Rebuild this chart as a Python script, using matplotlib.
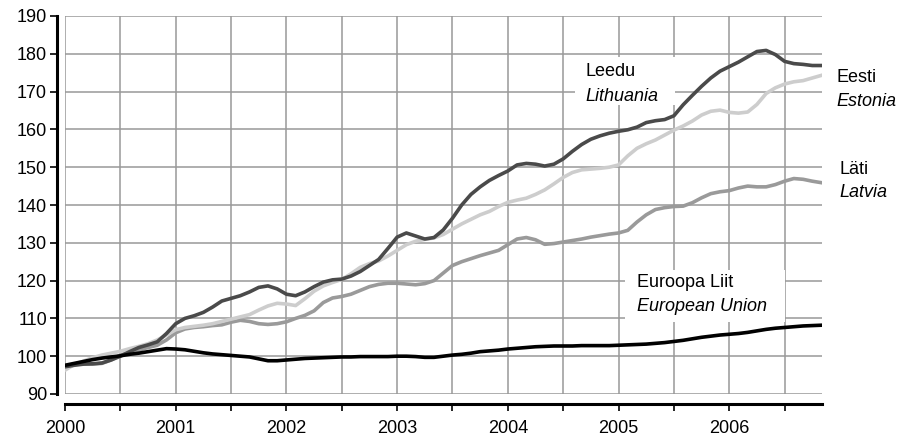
import matplotlib.pyplot as plt
from matplotlib.patches import Rectangle

plt.rcParams['font.family'] = ['Liberation Sans', 'DejaVu Sans']

# monthly index, Jan 2000 .. Nov 2006
years = ['2000', '2001', '2002', '2003', '2004', '2005', '2006']

eu = [97.6, 98.1, 98.6, 99.1, 99.5, 99.8, 100.1, 100.5, 100.8, 101.2, 101.6, 102.0,
      101.9, 101.7, 101.3, 100.9, 100.6, 100.4, 100.2, 100.0, 99.8, 99.3, 98.8, 98.8,
      99.0, 99.2, 99.4, 99.5, 99.6, 99.7, 99.8, 99.8, 99.9, 99.9, 99.9, 99.9,
      100.0, 100.0, 99.9, 99.7, 99.7, 100.0, 100.3, 100.5, 100.8, 101.2, 101.4, 101.6,
      101.9, 102.1, 102.3, 102.5, 102.6, 102.7, 102.7, 102.7, 102.8, 102.8, 102.8, 102.8,
      102.9, 103.0, 103.1, 103.2, 103.4, 103.6, 103.9, 104.2, 104.6, 105.0, 105.3, 105.6,
      105.8, 106.0, 106.3, 106.7, 107.1, 107.4, 107.6, 107.8, 108.0, 108.1, 108.2]

lithuania = [97.2, 97.6, 97.9, 98.0, 98.2, 99.0, 100.0, 101.2, 102.3, 103.0, 103.8, 106.0,
             108.6, 110.0, 110.7, 111.6, 113.0, 114.6, 115.3, 116.0, 117.0, 118.2, 118.6, 117.8,
             116.4, 116.0, 117.0, 118.4, 119.6, 120.2, 120.4, 121.2, 122.4, 124.0, 125.6, 128.5,
             131.5, 132.6, 131.8, 131.0, 131.4, 133.4, 136.5, 140.0, 142.8, 144.8, 146.5, 147.8,
             149.0, 150.6, 151.0, 150.8, 150.3, 150.8, 152.2, 154.2, 156.0, 157.4, 158.3, 159.0,
             159.5, 159.9, 160.6, 161.8, 162.3, 162.6, 163.6, 166.5, 169.0, 171.4, 173.6, 175.4,
             176.6, 177.8, 179.2, 180.6, 180.9, 179.8, 178.0, 177.4, 177.2, 176.9, 176.9]

estonia = [96.3, 97.8, 98.7, 99.6, 100.3, 100.8, 101.3, 102.0, 102.6, 103.3, 104.3, 105.6,
           107.0, 107.6, 107.9, 108.2, 108.6, 109.2, 109.8, 110.4, 111.0, 112.2, 113.3, 114.0,
           113.8, 113.4, 115.2, 117.2, 118.6, 119.5, 120.3, 121.8, 123.5, 124.5, 125.2, 126.5,
           128.0, 129.5, 130.4, 130.9, 131.3, 132.2, 133.6, 135.0, 136.2, 137.4, 138.3, 139.6,
           140.7, 141.3, 141.8, 142.8, 144.0, 145.6, 147.3, 148.6, 149.3, 149.5, 149.7, 150.0,
           150.6, 153.0, 155.0, 156.2, 157.2, 158.5, 159.8, 160.9, 162.2, 163.8, 164.8, 165.1,
           164.5, 164.3, 164.6, 166.6, 169.5, 171.0, 172.0, 172.6, 172.9, 173.6, 174.3]

latvia = [96.8, 97.8, 98.0, 97.9, 98.1, 99.0, 100.3, 101.0, 101.6, 102.3, 102.9, 104.3,
          106.2, 107.2, 107.6, 107.8, 108.1, 108.3, 109.0, 109.5, 109.2, 108.6, 108.4, 108.6,
          109.1, 110.0, 110.8, 112.0, 114.2, 115.4, 115.8, 116.4, 117.4, 118.4, 119.0, 119.3,
          119.3, 119.1, 118.9, 119.2, 120.0, 122.0, 124.0, 125.0, 125.8, 126.6, 127.3, 128.0,
          129.5, 131.0, 131.4, 130.8, 129.6, 129.8, 130.2, 130.6, 131.0, 131.5, 131.9, 132.3,
          132.6, 133.3, 135.5, 137.4, 138.8, 139.3, 139.6, 139.7, 140.6, 141.9, 143.0, 143.5,
          143.8, 144.5, 145.0, 144.8, 144.8, 145.4, 146.3, 147.0, 146.8, 146.3, 145.9]

months = list(range(len(eu)))

fig = plt.figure(figsize=(9.01, 4.44), dpi=100)
ax = fig.add_axes([65 / 901, 1 - 394 / 444, (821.5 - 65) / 901, 378 / 444])

ax.plot(months, latvia, color='#9a9a9a', lw=2.6, zorder=3)
ax.plot(months, estonia, color='#cdcdcd', lw=2.6, zorder=3)
ax.plot(months, lithuania, color='#4a4a4a', lw=2.6, zorder=3)
ax.plot(months, eu, color='black', lw=2.6, zorder=3)

ax.set_xlim(0, len(eu) - 1)
ax.set_ylim(90, 190)
ax.set_xticks(range(0, len(eu), 6))
ax.set_xticklabels([years[i // 2] if i % 2 == 0 else '' for i in range(len(range(0, len(eu), 6)))])
ax.set_yticks(range(90, 191, 10))

ax.set_axisbelow(True)
ax.grid(True, color='#999999', lw=1.1)

for s in ['top', 'right']:
    ax.spines[s].set_visible(False)
ax.spines['left'].set_position(('outward', 6))
ax.spines['bottom'].set_position(('outward', 7.5))
ax.spines['left'].set_linewidth(2.2)
ax.spines['bottom'].set_linewidth(2.2)
ax.tick_params(axis='y', length=5, width=1.2, pad=2, labelsize=13)
ax.tick_params(axis='x', length=5, width=1.2, pad=6, labelsize=13)

# white boxes behind the two inner labels
ax.add_patch(Rectangle((55.3, 166.5), 10.8, 12.7, facecolor='white', edgecolor='none', zorder=1))
ax.add_patch(Rectangle((60.7, 109.0), 17.3, 13.8, facecolor='white', edgecolor='none', zorder=1))

fs = 13
ax.text(56.4, 175.2, 'Leedu', fontsize=fs, va='center', zorder=4)
ax.text(56.4, 168.8, 'Lithuania', fontsize=fs, style='italic', va='center', zorder=4)
ax.text(83.6, 173.7, 'Eesti', fontsize=fs, va='center', clip_on=False)
ax.text(83.6, 167.3, 'Estonia', fontsize=fs, style='italic', va='center', clip_on=False)
ax.text(83.9, 149.3, 'Läti', fontsize=fs, va='center', clip_on=False)
ax.text(83.9, 143.3, 'Latvia', fontsize=fs, style='italic', va='center', clip_on=False)
ax.text(62.0, 119.4, 'Euroopa Liit', fontsize=fs, va='center', zorder=4)
ax.text(62.0, 113.1, 'European Union', fontsize=fs, style='italic', va='center', zorder=4)

fig.savefig('out.png', dpi=100)
plt.close(fig)
